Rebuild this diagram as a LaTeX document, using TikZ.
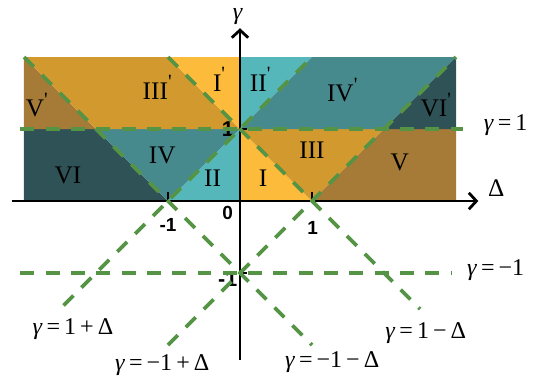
\documentclass[tikz,border=0pt]{standalone}
\usepackage{fontspec}
\setmainfont{Liberation Serif}
\newfontfamily\ticksans{Liberation Sans}
\usetikzlibrary{arrows.meta}
\definecolor{DarkSlate}{HTML}{2F5257}
\definecolor{MidTeal}{HTML}{478A8E}
\definecolor{LightTeal}{HTML}{56B7BB}
\definecolor{SunYellow}{HTML}{FDBB3C}
\definecolor{GoldOrange}{HTML}{D29A2E}
\definecolor{Umber}{HTML}{A57B37}
\definecolor{GuideGreen}{HTML}{559445}
\newcommand{\pr}{\raisebox{0.9ex}{\fontsize{16}{20}\selectfont\textquotesingle}}

\begin{document}
\begin{tikzpicture}[x=2cm, y=2cm,
  region/.style={font=\fontsize{20}{24}\selectfont, inner sep=0pt},
  guide/.style={draw=GuideGreen, line width=3pt, dash pattern=on 11pt off 9pt},
  eqlabel/.style={font=\fontsize{19}{22}\selectfont, inner sep=0pt},
  ticklabel/.style={font=\ticksans\bfseries\fontsize{15}{18}\selectfont, inner sep=0pt},
  axis/.style={line width=2.2pt, -{Straight Barb[length=6pt,width=13pt,line width=2.2pt]}}]
  \useasboundingbox (-3.333,-2.597) rectangle (4.25,2.792);

  % lower strip, 0 < gamma < 1
  \fill[DarkSlate] (-3,0) -- (-1,0) -- (-2,1) -- (-3,1) -- cycle;
  \fill[MidTeal] (-1,0) -- (0,1) -- (-2,1) -- cycle;
  \fill[LightTeal] (-1,0) -- (0,0) -- (0,1) -- cycle;
  \fill[SunYellow] (0,0) -- (1,0) -- (0,1) -- cycle;
  \fill[GoldOrange] (1,0) -- (2,1) -- (0,1) -- cycle;
  \fill[Umber] (1,0) -- (3,0) -- (3,1) -- (2,1) -- cycle;
  % upper strip, 1 < gamma < 2
  \fill[Umber] (-3,1) -- (-2,1) -- (-3,2) -- cycle;
  \fill[GoldOrange] (-2,1) -- (0,1) -- (-1,2) -- (-3,2) -- cycle;
  \fill[SunYellow] (0,1) -- (0,2) -- (-1,2) -- cycle;
  \fill[LightTeal] (0,1) -- (1,2) -- (0,2) -- cycle;
  \fill[MidTeal] (0,1) -- (2,1) -- (3,2) -- (1,2) -- cycle;
  \fill[DarkSlate] (2,1) -- (3,1) -- (3,2) -- cycle;

  % axes
  \coordinate (xstart) at (-3.17,0);
  \coordinate (xend) at (3.31,0);
  \coordinate (ystart) at (0,-2.21);
  \coordinate (yend) at (0,2.40);
  \draw[axis] (xstart) -- (xend);
  \draw[axis] (ystart) -- (yend);
  \node[inner sep=0pt] (gamma) at (-0.03,2.56) {\fontsize{19}{22}\selectfont\textit{γ}};
  \node[inner sep=0pt] (delta) at (3.56,0.18) {\fontsize{20}{24}\selectfont Δ};

  % ticks
  \draw[line width=2pt] (-1,0) -- (-1,0.12);
  \draw[line width=2pt] (1,0) -- (1,0.12);
  \draw[line width=2pt] (0,1) -- (0.1,1);
  \draw[line width=2pt] (0,-1) -- (0.1,-1);
  \node[ticklabel] (zero) at (-0.17,-0.17) {0};
  \node[ticklabel] (xmone) at (-1,-0.33) {-1};
  \node[ticklabel] (xone) at (1.01,-0.37) {1};
  \node[ticklabel, font=\ticksans\bfseries\fontsize{17}{18}\selectfont] (yone) at (-0.17,1.0) {1};
  \node[ticklabel, font=\ticksans\bfseries\fontsize{17}{18}\selectfont] (ymone) at (-0.17,-1.08) {-1};

  % boundary lines
  \coordinate (hpL) at (-3.05,1);
  \coordinate (hpR) at (3.1,1);
  \coordinate (hmL) at (-3.05,-1);
  \coordinate (hmR) at (2.95,-1);
  \coordinate (apA) at (-2.45,-1.45);
  \coordinate (apB) at (1,2);
  \coordinate (amA) at (-1,-2);
  \coordinate (amB) at (3,2);
  \coordinate (dpA) at (-1,2);
  \coordinate (dpB) at (2.5,-1.5);
  \coordinate (dmA) at (-3,2);
  \coordinate (dmB) at (1,-2);
  \draw[guide] (hpL) -- (hpR);
  \draw[guide] (hmL) -- (hmR);
  \draw[guide] (apA) -- (apB);
  \draw[guide] (amA) -- (amB);
  \draw[guide] (dpA) -- (dpB);
  \draw[guide] (dmA) -- (dmB);

  % equations
  \node[eqlabel] (eqhp) at (3.69,1.06) {\textit{γ}\,=\,1};
  \node[eqlabel] (eqhm) at (3.55,-0.96) {\textit{γ}\,=\,−1};
  \node[eqlabel] (eqap) at (-2.32,-1.78) {\textit{γ}\,=\,1\,+\,Δ};
  \node[eqlabel] (eqam) at (-1.08,-2.28) {\textit{γ}\,=\,−1\,+\,Δ};
  \node[eqlabel] (eqdm) at (1.28,-2.24) {\textit{γ}\,=\,−1\,−\,Δ};
  \node[eqlabel] (eqdp) at (2.58,-1.83) {\textit{γ}\,=\,1\,−\,Δ};

  % region numerals
  \node[region] (rVI) at (-2.39,0.36) {VI};
  \node[region] (rIV) at (-1.08,0.64) {IV};
  \node[region] (rII) at (-0.38,0.32) {II};
  \node[region] (rI) at (0.32,0.32) {I};
  \node[region] (rIII) at (1.0,0.71) {III};
  \node[region] (rV) at (2.22,0.53) {V};
  \node[region] (rVp) at (-2.82,1.33) {V\pr};
  \node[region] (rIIIp) at (-1.15,1.58) {III\pr};
  \node[region] (rIp) at (-0.29,1.69) {I\pr};
  \node[region] (rIIp) at (0.28,1.69) {II\pr};
  \node[region] (rIVp) at (1.42,1.54) {IV\pr};
  \node[region] (rVIp) at (2.72,1.33) {VI\pr};
\end{tikzpicture}
\end{document}
